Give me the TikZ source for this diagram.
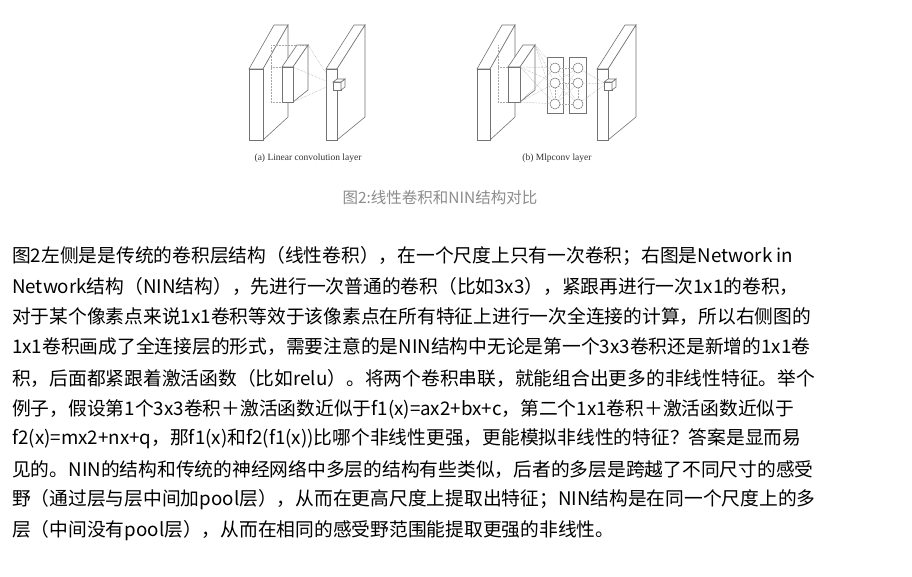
\documentclass[tikz,border=0pt]{standalone}
\usepackage{fontspec}
\setmainfont{Liberation Serif}
\newfontfamily\cjk{Noto Sans CJK SC}
\begin{document}
\begin{tikzpicture}[x=1pt,y=-1pt,
  slabline/.style={draw=black!55,line width=0.6pt,fill=white},
  dotl/.style={draw=black!35,densely dotted,line width=0.5pt},
  body/.style={anchor=west,font=\cjk\fontsize{18.75}{20}\selectfont,inner sep=0pt},
  captxt/.style={font=\fontsize{9.5}{10}\selectfont,text=black!80}]
\useasboundingbox (0,0) rectangle (912,576);
\fill[white] (0,0) rectangle (912,576);
\newcommand{\myslab}[7]{%
  \path[slabline] (#1,#3) -- (#2,#3) -- ({#2+#5},{#3+#6}) -- ({#1+#5},{#3+#6}) -- cycle;
  \path[slabline] (#2,#3) -- ({#2+#5},{#3+#6}) -- ({#2+#5},#7) -- (#2,#4) -- cycle;
  \path[slabline] (#1,#3) rectangle (#2,#4);}
% ---------- panel a
\myslab{249}{263}{69}{140}{25}{-44}{117}
\draw[dotl] (271,45) -- (271,102) -- (282,102);
\draw[dotl] (271,45) -- (300,45);
\draw[dotl] (271,67) -- (282,67);
\myslab{282}{293}{67}{102}{15}{-22}{90}
\coordinate (ca) at (333,84);
\draw[dotl] (308,45) -- (ca);
\draw[dotl] (293,67) -- (ca);
\draw[dotl] (293,102) -- (ca);
\draw[dotl] (300,45) -- (308,45);
\myslab{326}{337}{69}{140}{28}{-44}{117}
\path[slabline] (333,82) rectangle (341,90);
\path[slabline] (341,82) -- (345,79) -- (345,87) -- (341,90) -- cycle;
\path[slabline] (333,82) -- (337,79) -- (345,79) -- (341,82) -- cycle;
\node[captxt] (capa) at (308,158) {(a) Linear convolution layer};
% ---------- panel b
\myslab{477}{490}{69}{140}{25}{-44}{117}
\draw[dotl] (498,45) -- (498,102) -- (508,102);
\draw[dotl] (498,67) -- (508,67);
\myslab{508}{520}{67}{102}{15}{-22}{90}
\path[slabline] (547,57) rectangle (563,113);
\path[slabline] (569,57) rectangle (586,113);
\foreach \y/\n in {68/1,83/2,104/3}{
  \node[draw=black!55,circle,minimum size=10pt,inner sep=0pt,line width=0.5pt] (l\n) at (555,\y) {};
  \node[draw=black!55,circle,minimum size=10pt,inner sep=0pt,line width=0.5pt] (r\n) at (578,\y) {};}
\foreach \p in {(535,45),(520,67),(520,102)}
  \foreach \n in {1,2,3} \draw[dotl] \p -- (l\n);
\foreach \a in {1,2,3} \foreach \b in {1,2,3} \draw[dotl] (l\a) -- (r\b);
\draw[dotl] (l2) -- (l3); \draw[dotl] (r2) -- (r3);
\myslab{597}{608}{69}{140}{28}{-44}{117}
\coordinate (cb) at (606,84);
\foreach \n in {1,2,3} \draw[dotl] (r\n) -- (cb);
\path[slabline] (604,82) rectangle (612,90);
\path[slabline] (612,82) -- (616,79) -- (616,87) -- (612,90) -- cycle;
\path[slabline] (604,82) -- (608,79) -- (616,79) -- (612,82) -- cycle;
\node[captxt] (capb) at (557,158) {(b) Mlpconv layer};
\node[font=\cjk\fontsize{15.5}{16}\selectfont,text=black!45] (fig) at (440,198) {图2:线性卷积和NIN结构对比};
% ---------- body text
\node[body] (t1) at (12,256) {图2左侧是是传统的卷积层结构（线性卷积），在一个尺度上只有一次卷积；右图是Network in};
\node[body] (t2) at (12,286) {Network结构（NIN结构），先进行一次普通的卷积（比如3x3），紧跟再进行一次1x1的卷积，};
\node[body] (t3) at (12,317) {对于某个像素点来说1x1卷积等效于该像素点在所有特征上进行一次全连接的计算，所以右侧图的};
\node[body] (t4) at (12,347) {1x1卷积画成了全连接层的形式，需要注意的是NIN结构中无论是第一个3x3卷积还是新增的1x1卷};
\node[body] (t5) at (12,378) {积，后面都紧跟着激活函数（比如relu）。将两个卷积串联，就能组合出更多的非线性特征。举个};
\node[body] (t6) at (12,409) {例子，假设第1个3x3卷积＋激活函数近似于f1(x)=ax2+bx+c，第二个1x1卷积＋激活函数近似于};
\node[body] (t7) at (12,439) {f2(x)=mx2+nx+q，那f1(x)和f2(f1(x))比哪个非线性更强，更能模拟非线性的特征？答案是显而易};
\node[body] (t8) at (12,469) {见的。NIN的结构和传统的神经网络中多层的结构有些类似，后者的多层是跨越了不同尺寸的感受};
\node[body] (t9) at (12,500) {野（通过层与层中间加pool层），从而在更高尺度上提取出特征；NIN结构是在同一个尺度上的多};
\node[body] (t10) at (12,531) {层（中间没有pool层），从而在相同的感受野范围能提取更强的非线性。};
\end{tikzpicture}
\end{document}
